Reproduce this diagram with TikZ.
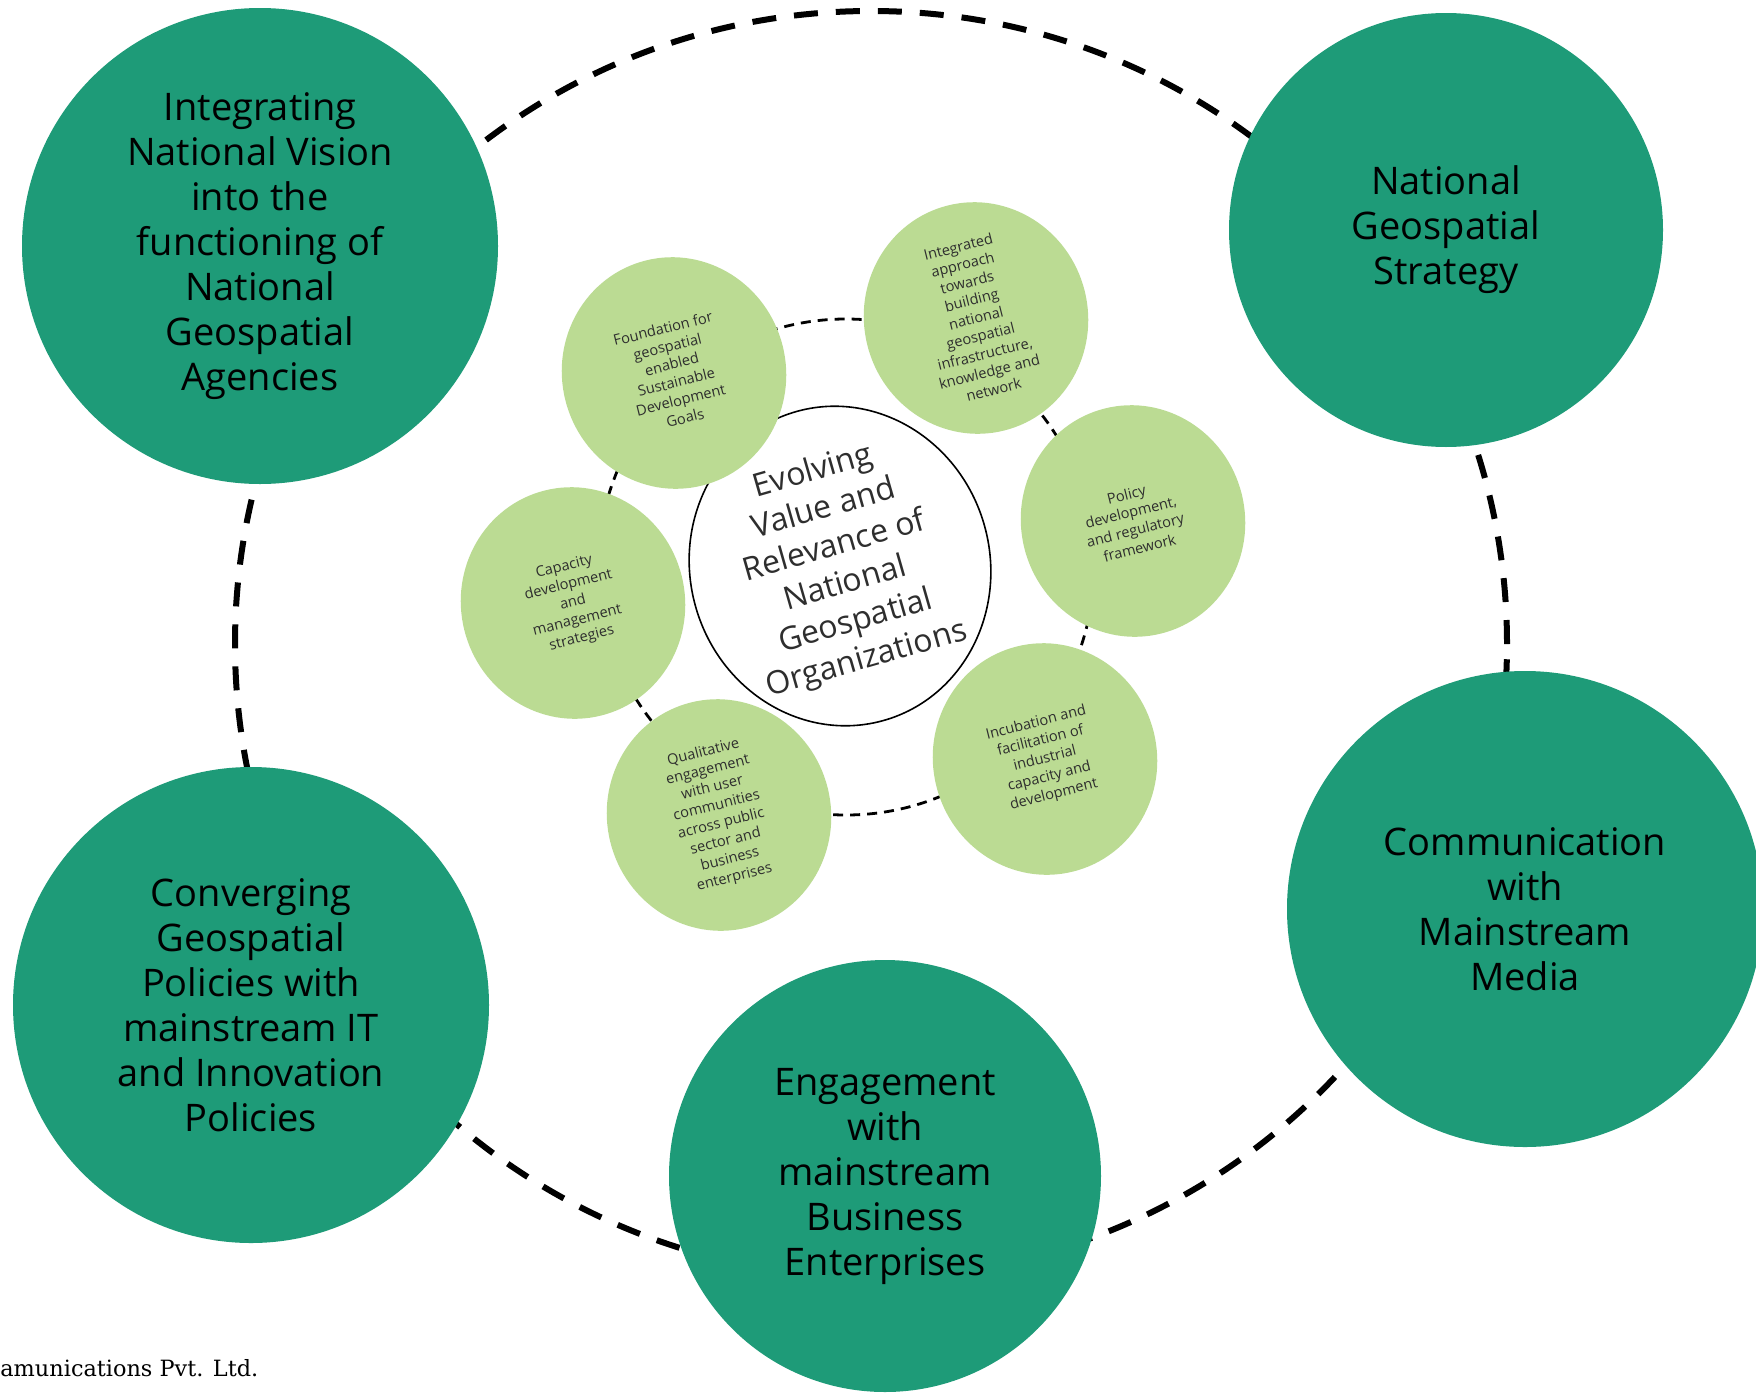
\documentclass[tikz,border=0pt]{standalone}
\usepackage{fontspec}
\setmainfont{Open Sans}
\newfontfamily\footfont{DejaVu Serif}
\usetikzlibrary{shapes.geometric}
\definecolor{darkgreen}{HTML}{1E9B78}
\definecolor{lightgreen}{HTML}{BBDB93}
\definecolor{inktext}{HTML}{2E2E2E}

\begin{document}
\begin{tikzpicture}[x=0.5pt, y=-0.5pt,
  every big/.style={circle, fill=darkgreen, inner sep=0pt, align=center,
    font=\fontsize{19}{22.5}\selectfont},
  every small/.style={ellipse, fill=lightgreen, inner sep=0pt, align=center,
    minimum width=112pt, minimum height=116pt, text=inktext, rotate=14,
    font=\fontsize{7.3}{9.2}\selectfont},
  outer ring/.style={line width=3pt, dash pattern=on 12pt off 9pt},
  inner ring/.style={line width=1.4pt, dash pattern=on 5pt off 3.5pt}]
\useasboundingbox (0,0) rectangle (1756,1392);

% rings behind everything
\draw [outer ring] (871,644) ellipse [x radius=318pt, y radius=316.5pt];
\draw [inner ring] (846,567) circle [radius=124pt];

% centre
\node [ellipse, draw, fill=white, line width=0.8pt, inner sep=0pt,
  minimum width=150pt, minimum height=144pt, align=center, text=inktext,
  rotate=16, font=\fontsize{16}{19.5}\selectfont] (core) at (840,566)
  {Evolving\\Value and\\Relevance of\\National\\Geospatial\\Organizations};

% inner circles
\foreach \n/\p/\t in {
  sdg/{674,373}/{Foundation for\\geospatial\\enabled\\Sustainable\\Development\\Goals},
  nsdi/{976,318}/{Integrated\\approach\\towards\\building\\national\\geospatial\\infrastructure,\\knowledge and\\network},
  policy/{1133,521}/{Policy\\development,\\and regulatory\\framework},
  industry/{1045,759}/{Incubation and\\facilitation of\\industrial\\capacity and\\development},
  users/{719,815}/{Qualitative\\engagement\\with user\\communities\\across public\\sector and\\business\\enterprises},
  capacity/{573,603}/{Capacity\\development\\and\\management\\strategies}}
  \node [every small] (small-\n) at (\p) {\t};

% outer circles
\foreach \n/\p/\r/\t in {
  vision/{260,246}/238pt/{Integrating\\National Vision\\into the\\functioning of\\National\\Geospatial\\Agencies},
  strategy/{1446,230}/217pt/{National\\Geospatial\\Strategy},
  media/{1525,909}/238pt/{Communication\\with\\Mainstream\\Media},
  business/{885,1176}/216pt/{Engagement\\with\\mainstream\\Business\\Enterprises},
  it/{251,1005}/238pt/{Converging\\Geospatial\\Policies with\\mainstream IT\\and Innovation\\Policies}}
  \node [every big, minimum size=\r] (big-\n) at (\p) {\t};

\node [anchor=west, inner sep=0pt, font=\footfont\fontsize{11.2}{13}\selectfont]
  (credit) at (0,1368) {amunications Pvt. Ltd.};
\end{tikzpicture}
\end{document}
